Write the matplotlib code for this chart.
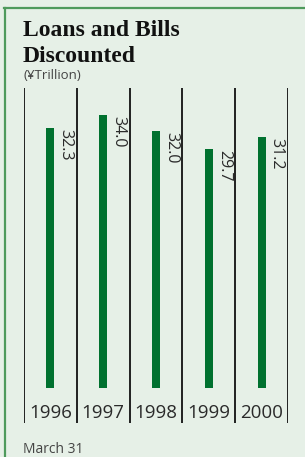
import matplotlib.pyplot as plt
from matplotlib.lines import Line2D

years = ["1996", "1997", "1998", "1999", "2000"]
loans = [32.3, 34.0, 32.0, 29.7, 31.2]
value_labels = ["32.3", "34.0", "32.0", "29.7", "31.2"]

BG = "#E6F0E7"
FRAME = "#4E9A5C"
BAR = "#00712F"
TEXT = "#2A2A2A"

W, H = 305, 457
fig = plt.figure(figsize=(W / 100, H / 100), dpi=100, facecolor=BG)

# outer frame (top and left edges only)
fig.add_artist(Line2D([4 / W, 1], [1 - 8 / H, 1 - 8 / H], color=FRAME, lw=1.6,
                      transform=fig.transFigure))
fig.add_artist(Line2D([4.5 / W, 4.5 / W], [0, 1 - 8 / H], color=FRAME, lw=1.6,
                      transform=fig.transFigure))

# plot area in pixels: x 24..288, y 88..423 ; zero line at y=388
px_per_unit = 8.04
ax_top, ax_bot, zero_y = 88, 423, 388
ax = fig.add_axes([24 / W, 1 - ax_bot / H, (288 - 24) / W, (ax_bot - ax_top) / H])
ax.set_facecolor("none")
ax.set_xlim(-0.5, len(years) - 0.5)
ax.set_ylim(-(ax_bot - zero_y) / px_per_unit, (zero_y - ax_top) / px_per_unit)
for s in ax.spines.values():
    s.set_visible(False)
ax.set_xticks([])
ax.set_yticks([])

for i in range(len(years) + 1):
    ax.axvline(i - 0.5, color="#111111", lw=1.3)

bar_w = 0.15
xs = list(range(len(years)))
ax.bar(xs, loans, width=bar_w, color=BAR, zorder=3)

for x, v, lab in zip(xs, loans, value_labels):
    ax.annotate(lab, (x + bar_w / 2, v), xytext=(3, -1), textcoords="offset pixels",
                rotation=270, ha="left", va="top", fontsize=11.5,
                family="Open Sans", color=TEXT)

for x, yr in zip(xs, years):
    ax.text(x, -(418 - zero_y) / px_per_unit, yr, ha="center", va="baseline",
            fontsize=13.5, family="Open Sans", color=TEXT)

fig.text(23 / W, 1 - 36 / H, "Loans and Bills", fontsize=17, fontweight="bold",
         family="Liberation Serif", color="#111111", va="baseline")
fig.text(23 / W, 1 - 62 / H, "Discounted", fontsize=17, fontweight="bold",
         family="Liberation Serif", color="#111111", va="baseline")
fig.text(23 / W, 1 - 79 / H, "(¥Trillion)", fontsize=9.5, family="Open Sans",
         color="#444444", va="baseline")
fig.text(23 / W, 1 - 453 / H, "March 31", fontsize=10, family="Open Sans",
         color="#444444", va="baseline")

fig.savefig("out.png", dpi=100, facecolor=BG)
